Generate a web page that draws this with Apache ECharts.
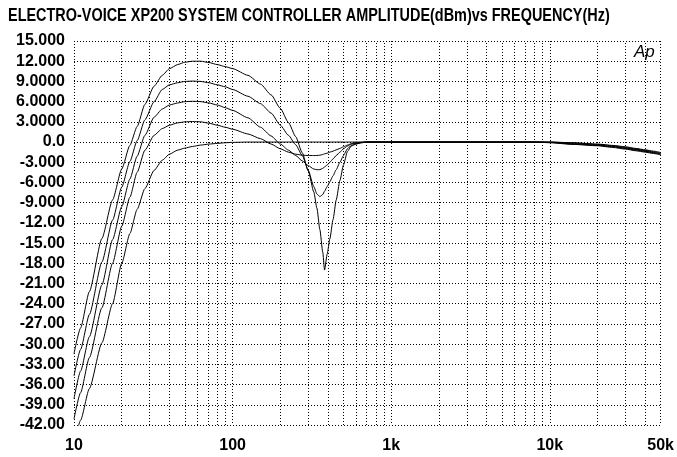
<!DOCTYPE html>
<html>
<head>
<meta charset="utf-8">
<script src="https://cdn.jsdelivr.net/npm/echarts@6/dist/echarts.min.js"></script>
<style>
  html, body { margin: 0; padding: 0; background: #fff; }
  #chart { width: 677px; height: 457px; }
</style>
</head>
<body>
<div id="chart"></div>
<script>
// frequencies (Hz) shared by all five traces
const freqs = [10, 11, 12.5, 15, 17.5, 20, 22.5, 25, 28, 32, 36, 40, 45, 50, 56, 63, 71, 80, 90, 100,
  125, 150, 175, 200, 225, 250, 275, 300, 325, 340, 355, 370, 380, 395, 410, 430, 450, 475, 500, 530,
  560, 600, 650, 700, 800, 1000, 2000, 5000, 8000, 10000, 14000, 20000, 25000, 30000, 35000, 40000, 45000, 50000]

// amplitude (dBm) per trace
const boost12 = [-31.4, -27.6, -22.2, -14.3, -8.6, -4.0, -0.5, 2.3, 5.6, 8.3, 9.9, 10.9, 11.5, 11.85, 12.0, 12.0, 11.8, 11.5, 11.2, 10.9,
  9.9, 8.6, 7.0, 5.0, 2.9, 0.8, -1.6, -4.3, -7.4, -9.8, -13.0, -16.3, -19.0, -16.6, -14.4, -11.5, -8.6, -5.7, -3.4, -1.4,
  -0.6, -0.3, -0.1, 0, 0, 0, 0, 0, 0, -0.1, -0.35, -0.55, -0.8, -1.05, -1.3, -1.5, -1.7, -1.9]
const boost9 = [-34.7, -30.8, -25.6, -17.8, -11.6, -6.7, -2.9, 0.2, 3.3, 6.0, 7.8, 8.5, 8.8, 9.0, 9.05, 9.0, 8.8, 8.5, 8.2, 7.8,
  6.8, 5.7, 4.3, 2.5, 1.0, -0.4, -2.0, -4.2, -6.6, -7.7, -8.1, -7.8, -7.3, -6.6, -5.9, -5.0, -4.1, -3.0, -2.0, -1.0,
  -0.5, -0.25, -0.1, 0, 0, 0, 0, 0, 0, -0.05, -0.3, -0.5, -0.7, -0.95, -1.2, -1.4, -1.6, -1.8]
const boost6 = [-38.1, -34.0, -28.9, -21.2, -14.5, -9.6, -5.5, -2.1, 1.0, 3.7, 4.9, 5.5, 5.8, 6.0, 6.05, 6.0, 5.8, 5.5, 5.1, 4.7,
  3.6, 2.2, 0.9, -0.3, -1.2, -2.0, -2.8, -3.5, -4.0, -4.1, -4.1, -3.9, -3.7, -3.4, -3.0, -2.5, -2.0, -1.5, -1.0, -0.6,
  -0.3, -0.15, -0.05, 0, 0, 0, 0, 0, 0, -0.05, -0.25, -0.45, -0.65, -0.9, -1.1, -1.35, -1.55, -1.75]
const boost3 = [-41.1, -37.2, -32.0, -24.6, -18.0, -12.5, -8.2, -4.5, -1.2, 1.0, 2.0, 2.5, 2.85, 3.0, 3.05, 3.0, 2.8, 2.5, 2.2, 1.9,
  1.2, 0.5, -0.3, -1.0, -1.5, -1.8, -1.95, -2.0, -2.0, -2.0, -1.95, -1.85, -1.75, -1.65, -1.5, -1.35, -1.15, -0.95, -0.7, -0.45,
  -0.25, -0.1, -0.05, 0, 0, 0, 0, 0, 0, 0, -0.15, -0.35, -0.55, -0.8, -1.05, -1.25, -1.45, -1.65]
const flat = [-45.0, -41.3, -36.6, -29.8, -24.0, -18.0, -13.6, -10.0, -6.9, -4.2, -2.7, -1.8, -1.2, -0.9, -0.65, -0.45, -0.3, -0.2, -0.1, -0.05,
  0, 0, 0, 0, 0, 0, 0, 0, 0, 0, 0, 0, 0, 0, 0, 0, 0, 0, 0, 0,
  0, 0, 0, 0, 0, 0, 0, 0, 0, 0, -0.1, -0.3, -0.5, -0.7, -0.95, -1.15, -1.35, -1.55]

const traces = [boost12, boost9, boost6, boost3, flat]

// tick labels as printed on the plot
const yTickLabels = ['-42.00', '-39.00', '-36.00', '-33.00', '-30.00', '-27.00', '-24.00', '-21.00', '-18.00', '-15.00',
  '-12.00', '-9.000', '-6.000', '-3.000', '0.0', '3.0000', '6.0000', '9.0000', '12.000', '15.000']
const xTickValues = [10, 100, 1000, 10000, 50000]
const xTickLabels = ['10', '100', '1k', '10k', '50k']

// minor log grid lines (2..9 per decade)
const minorGrid = []
for (const dec of [10, 100, 1000, 10000]) {
  for (let m = 2; m <= 9; m++) if (m * dec < 50000) minorGrid.push(m * dec)
}

const FONT = "'Liberation Sans', Arial, sans-serif"
const dotted = { color: '#000', width: 1, type: [1, 2] }

const chart = echarts.init(document.getElementById('chart'), null, { renderer: 'canvas' })

chart.setOption({
  backgroundColor: '#ffffff',
  animation: false,
  graphic: [{
    // condensed title, like the plotter font
    type: 'text', x: 8, y: 6, scaleX: 0.76,
    style: {
      text: 'ELECTRO-VOICE XP200 SYSTEM CONTROLLER AMPLITUDE(dBm)vs FREQUENCY(Hz)',
      font: `bold 19px ${FONT}`, fill: '#000', verticalAlign: 'top',
    },
  }, {
    type: 'text', x: 634, y: 44,
    style: { text: 'Ap', font: `italic 17px ${FONT}`, fill: '#000', verticalAlign: 'top' },
  }],
  grid: { left: 74, top: 41, width: 591, height: 384 },
  xAxis: {
    type: 'log', logBase: 10, min: 10, max: 50000,
    axisLine: { show: false }, axisTick: { show: false },
    axisLabel: {
      margin: 13, color: '#000', fontFamily: FONT, fontSize: 16, fontWeight: 'bold',
      showMinLabel: true, showMaxLabel: true,
      formatter: (v) => {
        const i = xTickValues.indexOf(Math.round(v))
        return i >= 0 ? xTickLabels[i] : ''
      },
    },
    splitLine: { show: true, lineStyle: dotted },
  },
  yAxis: {
    type: 'value', min: -42, max: 15, interval: 3,
    axisLine: { show: false }, axisTick: { show: false },
    axisLabel: {
      margin: 9, color: '#000', fontFamily: FONT, fontSize: 16, fontWeight: 'bold',
      formatter: (v) => yTickLabels[Math.round((v + 42) / 3)],
    },
    splitLine: { show: true, lineStyle: dotted },
  },
  series: traces.map((vals, k) => ({
    type: 'line',
    data: freqs.map((f, i) => [f, vals[i]]),
    showSymbol: false,
    smooth: 0.2,
    smoothMonotone: 'x',
    clip: true,
    lineStyle: { color: '#000', width: 1 },
    z: 3,
    markLine: k === 0 ? {
      silent: true, symbol: 'none', animation: false,
      label: { show: false },
      lineStyle: dotted,
      data: minorGrid.map(f => ({ xAxis: f })),
      z: 1,
    } : undefined,
  })),
})
</script>
</body>
</html>
